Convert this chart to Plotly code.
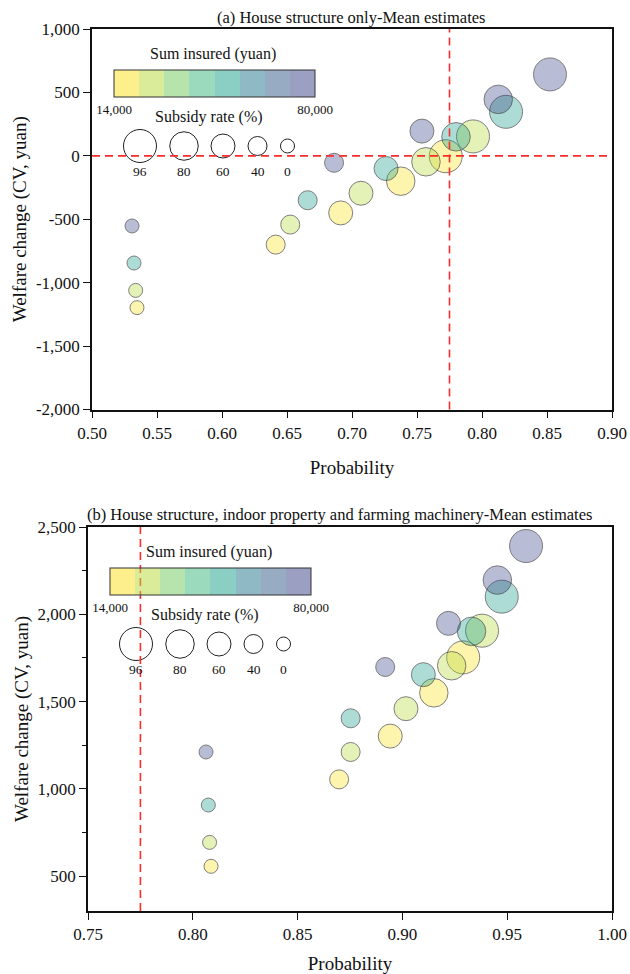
import plotly.graph_objects as go

# ---------------- data ----------------
SUBSIDY_RATE = [0, 40, 60, 80, 96]            # %
SUM_INSURED = [14000, 30000, 50000, 80000]    # yuan

# panel (a): House structure only  (rows: sum insured, cols: subsidy rate)
PROB_A = [
    [0.5346, 0.6413, 0.6913, 0.7375, 0.7721],
    [0.5336, 0.6525, 0.7069, 0.7569, 0.7931],
    [0.5323, 0.6659, 0.7262, 0.7800, 0.8185],
    [0.5308, 0.6862, 0.7538, 0.8125, 0.8523],
]
CV_A = [
    [-1197, -700, -450, -200, -3],
    [-1061, -542, -295, -47, 153],
    [-845, -350, -100, 150, 347],
    [-553, -55, 195, 445, 642],
]
# panel (b): House structure, indoor property and farming machinery
PROB_B = [
    [0.8087, 0.8698, 0.8942, 0.9150, 0.9290],
    [0.8080, 0.8753, 0.9017, 0.9235, 0.9380],
    [0.8074, 0.8753, 0.9100, 0.9330, 0.9474],
    [0.8063, 0.8918, 0.9220, 0.9453, 0.9590],
]
CV_B = [
    [556, 1054, 1302, 1550, 1753],
    [693, 1211, 1459, 1705, 1906],
    [907, 1404, 1654, 1902, 2101],
    [1211, 1698, 1948, 2196, 2391],
]
PROB_THRESHOLD = 0.775
CV_ZERO = 0

Y_TICKS_A = [-2000, -1500, -1000, -500, 0, 500, 1000]
Y_TICKS_B = [500, 1000, 1500, 2000, 2500]

TITLE_A = "(a) House structure only-Mean estimates"
TITLE_B = "(b) House structure, indoor property and farming machinery-Mean estimates"
X_TITLE = "Probability"
Y_TITLE = "Welfare change (CV, yuan)"
CB_TITLE = "Sum insured (yuan)"
SIZE_TITLE = "Subsidy rate (%)"
CB_MIN, CB_MAX = 14000, 80000

# ---------------- style ----------------
FONT = "Liberation Serif"
W, H = 630, 974
ML, MR, MT, MB = 88, 18, 29, 63
PW, PH = W - ML - MR, H - MT - MB

BIN_RGB = [(251, 225, 25), (181, 217, 53), (111, 199, 91), (57, 181, 123),
           (21, 157, 137), (31, 117, 139), (47, 87, 135), (55, 65, 133)]
ALPHA = 0.5
colorscale = []
nb = len(BIN_RGB)
for i, (r, g, b) in enumerate(BIN_RGB):
    c = f"rgba({r},{g},{b},{ALPHA})"
    colorscale.append([i / nb, c])
    colorscale.append([(i + 1) / nb, c])

DIAM = {0: 14, 40: 19, 60: 24, 80: 28.5, 96: 33}


def px_x(px):
    return (px - ML) / PW


def px_y(py):
    return (H - MB - py) / PH


def fmt_int(v):
    return f"{v:,}"   # ASCII hyphen for negatives


# panel pixel boxes: left, right, top, bottom
BOX_A = (92, 612, 29, 409.5)
BOX_B = (88, 612, 527, 911)

fig = go.Figure()


def flat(m):
    return [v for row in m for v in row]


def add_panel(prob, cv, xa, ya, box):
    xs = flat(prob)
    ys = flat(cv)
    cols = [s for s in SUM_INSURED for _ in SUBSIDY_RATE]
    sizes = [DIAM[r] for _ in SUM_INSURED for r in SUBSIDY_RATE]
    left, right, top, bottom = box
    fig.add_trace(go.Scatter(
        x=xs, y=ys, xaxis=xa, yaxis=ya, mode="markers", showlegend=False,
        hoverinfo="x+y",
        marker=dict(
            size=sizes, sizemode="diameter", color=cols, colorscale=colorscale,
            cmin=CB_MIN, cmax=CB_MAX, line=dict(color="rgba(55,55,55,0.9)", width=1),
            showscale=True,
            colorbar=dict(
                orientation="h", lenmode="pixels", len=201, thicknessmode="pixels",
                thickness=27, x=px_x(left + 22), xanchor="left",
                y=px_y(top + 41), yanchor="top", xpad=0, ypad=0,
                outlinewidth=1, outlinecolor="#333", borderwidth=0,
                tickmode="array", tickvals=[CB_MIN, CB_MAX],
                ticktext=[fmt_int(CB_MIN), fmt_int(CB_MAX)], ticks="",
                tickfont=dict(family=FONT, size=13, color="#111"),
                ticklabelposition="outside bottom",
                title=dict(text="", side="top"),
            ),
        ),
    ))
    fig.add_annotation(text=CB_TITLE, x=px_x(left + 121), y=px_y(top + 25), xref="paper",
                       yref="paper", showarrow=False, xanchor="center", yanchor="middle",
                       font=dict(family=FONT, size=16, color="#111"))
    fig.add_annotation(text=SIZE_TITLE, x=px_x(left + 117), y=px_y(top + 88), xref="paper",
                       yref="paper", showarrow=False, xanchor="center", yanchor="middle",
                       font=dict(family=FONT, size=16, color="#111"))
    offs = [48, 92, 131, 165.5, 195.5]
    for dx, rate in zip(offs, sorted(SUBSIDY_RATE, reverse=True)):
        r = DIAM[rate] / 2
        fig.add_shape(type="circle", xref="paper", yref="paper", xsizemode="pixel",
                      ysizemode="pixel", xanchor=px_x(left + dx), yanchor=px_y(top + 117),
                      x0=-r, x1=r, y0=-r, y1=r, line=dict(color="#222", width=1),
                      fillcolor="rgba(0,0,0,0)")
        fig.add_annotation(text=str(rate), x=px_x(left + dx), y=px_y(top + 142), xref="paper",
                           yref="paper", showarrow=False, xanchor="center", yanchor="middle",
                           font=dict(family=FONT, size=13.5, color="#111"))


add_panel(PROB_A, CV_A, "x", "y", BOX_A)
add_panel(PROB_B, CV_B, "x2", "y2", BOX_B)

RED = dict(color="rgb(250,45,45)", width=1.6, dash="8px,5px")
fig.add_shape(type="line", xref="x", yref="y domain", x0=PROB_THRESHOLD, x1=PROB_THRESHOLD,
              y0=0, y1=1, line=RED)
fig.add_shape(type="line", xref="x domain", yref="y", x0=0, x1=1, y0=CV_ZERO, y1=CV_ZERO,
              line=RED)
fig.add_shape(type="line", xref="x2", yref="y2 domain", x0=PROB_THRESHOLD, x1=PROB_THRESHOLD,
              y0=0, y1=1, line=RED)

fig.add_annotation(text=TITLE_A, x=px_x(351), y=px_y(18), xref="paper", yref="paper",
                   showarrow=False, xanchor="center", yanchor="middle",
                   font=dict(family=FONT, size=16.5, color="#111"))
fig.add_annotation(text=TITLE_B, x=px_x(339), y=px_y(514), xref="paper", yref="paper",
                   showarrow=False, xanchor="center", yanchor="middle",
                   font=dict(family=FONT, size=16.5, color="#111"))

axis_common = dict(
    showline=True, linecolor="#111", linewidth=1.5, mirror=True, ticks="outside",
    ticklen=7, tickwidth=1.3, tickcolor="#111", showgrid=False, zeroline=False,
    tickfont=dict(family=FONT, size=17, color="#111"),
    automargin=False,
    minor=dict(ticks="outside", ticklen=4, tickwidth=1.2, tickcolor="#111", nticks=2),
)
xtitle = dict(text=X_TITLE, font=dict(family=FONT, size=19), standoff=19)
ytitle = dict(text=Y_TITLE, font=dict(family=FONT, size=19), standoff=4)

fig.update_layout(
    width=W, height=H, margin=dict(l=ML, r=MR, t=MT, b=MB, autoexpand=False),
    paper_bgcolor="white", plot_bgcolor="white", showlegend=False,
    font=dict(family=FONT, color="#111"),
    xaxis=dict(axis_common, domain=[px_x(BOX_A[0]), px_x(BOX_A[1])], anchor="y",
               range=[0.5, 0.9], dtick=0.05, tick0=0.5, tickformat=".2f", title=xtitle),
    yaxis=dict(axis_common, domain=[px_y(BOX_A[3]), px_y(BOX_A[2])], anchor="x",
               range=[-2000, 1000], tickmode="array", tickvals=Y_TICKS_A,
               ticktext=[fmt_int(v) for v in Y_TICKS_A], title=ytitle),
    xaxis2=dict(axis_common, domain=[px_x(BOX_B[0]), px_x(BOX_B[1])], anchor="y2",
                range=[0.75, 1.0], dtick=0.05, tick0=0.75, tickformat=".2f", title=xtitle),
    yaxis2=dict(axis_common, domain=[px_y(BOX_B[3]), px_y(BOX_B[2])], anchor="x2",
                range=[300, 2500], tickmode="array", tickvals=Y_TICKS_B,
                ticktext=[fmt_int(v) for v in Y_TICKS_B],
                minor=dict(ticks="outside", ticklen=4, tickwidth=1.2, tickcolor="#111",
                           tickvals=[750, 1250, 1750, 2250]),
                title=ytitle),
)

fig.write_html("out.html", post_script="document.body.style.margin='0';",
               config={"displayModeBar": False})
